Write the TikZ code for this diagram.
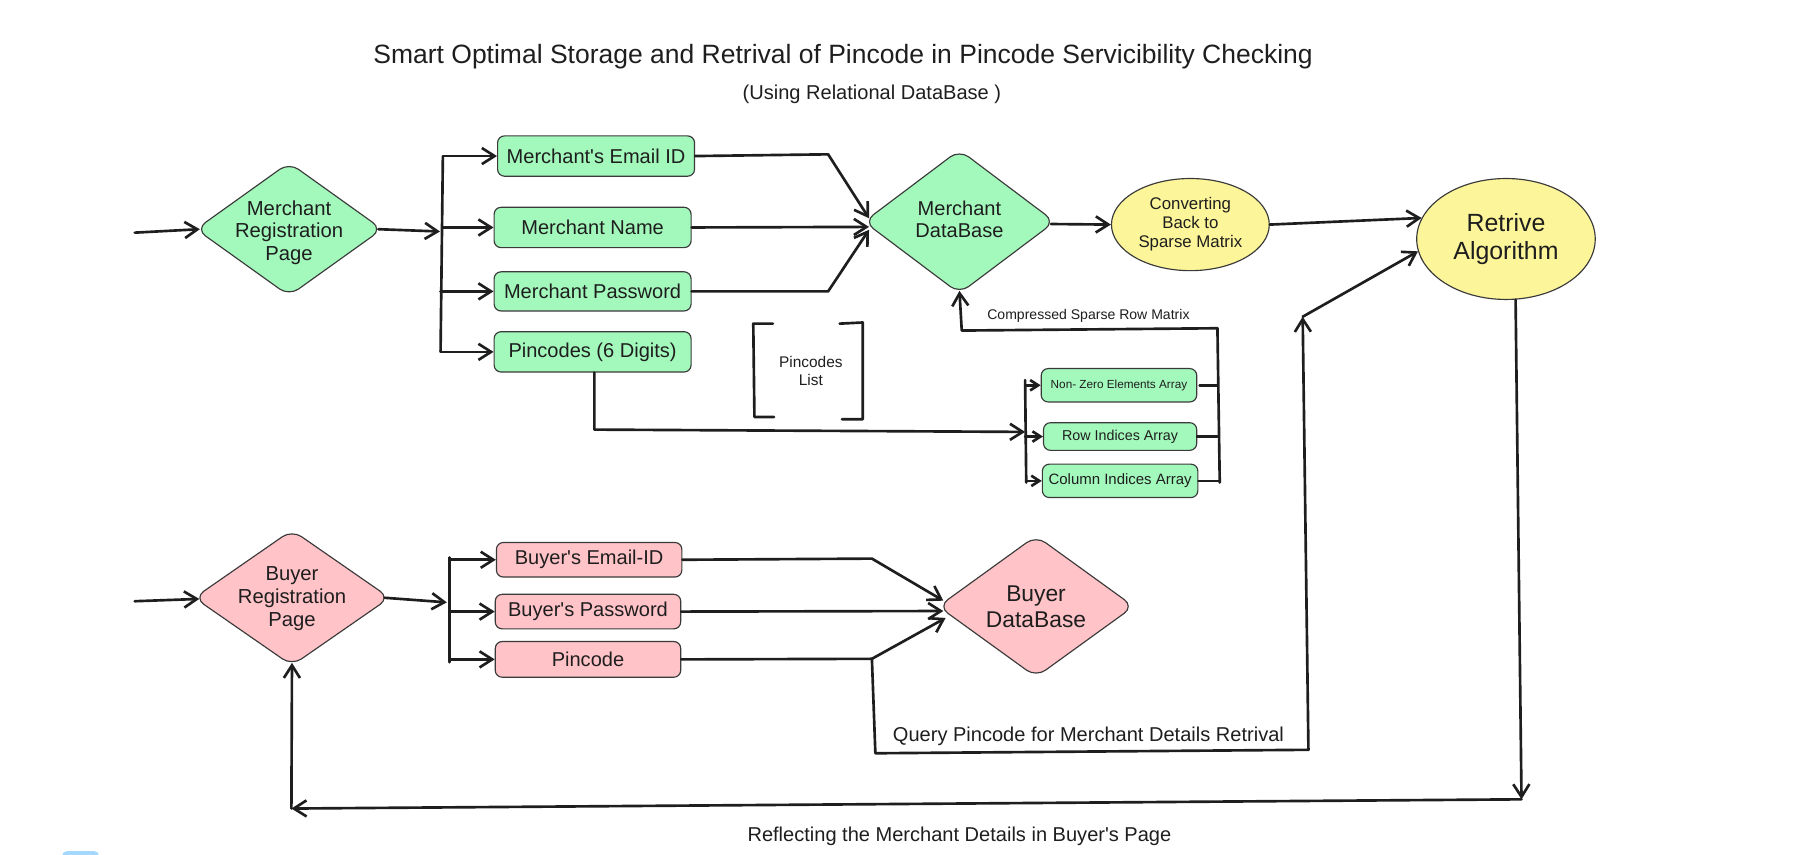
\documentclass[tikz,border=0pt]{standalone}
\usepackage{fontspec}
\setmainfont{Liberation Sans}[Ligatures=TeXOff]
\usetikzlibrary{shapes.geometric,arrows.meta,calc}
\definecolor{ink}{HTML}{1E1E1E}
\definecolor{edge}{HTML}{3A3A3A}
\definecolor{mgreen}{HTML}{A3F9BC}
\definecolor{bpink}{HTML}{FFC3C8}
\definecolor{ayellow}{HTML}{FCF59A}
\definecolor{lblue}{HTML}{A5D8FF}
\begin{document}
\begin{tikzpicture}[x=0.5pt,y=-0.5pt,
  every node/.style={text=ink, font=\fontsize{8.7}{9.8}\selectfont},
  gbox/.style={rectangle, draw=edge, line width=0.5pt, rounded corners=3pt, fill=mgreen, inner sep=0pt},
  pbox/.style={gbox, fill=bpink},
  dia/.style={diamond, draw=edge, line width=0.5pt, rounded corners=5pt, inner sep=0pt},
  ell/.style={ellipse, draw=edge, line width=0.5pt, fill=ayellow, inner sep=0pt, align=center},
  dtext/.style={align=center},
  conn/.style={draw=ink, line width=1.15pt, line cap=round, line join=round},
  arr/.style={conn, -{Straight Barb[length=5.5pt,width=7pt]}},
  sarr/.style={conn, -{Straight Barb[length=3.5pt,width=4.5pt]}}
]
\useasboundingbox (0,0) rectangle (1568,741.5);

% titles
\node[font=\fontsize{11.5}{14}\selectfont] (title) at (732,49) {Smart Optimal Storage and Retrival of Pincode in Pincode Servicibility Checking};
\node (sub) at (757,82) {(Using Relational DataBase )};

% merchant side
\node[dia, fill=mgreen, minimum width=81pt, minimum height=58pt] (mreg) at (251,199) {};
\node[dtext, font=\fontsize{8.8}{9.9}\selectfont] (mregt) at (251,202) {Merchant\\Registration\\Page};
\node[gbox, minimum width=85.5pt, minimum height=17.5pt] (memail) at (517.5,135.5) {Merchant's Email ID};
\node[gbox, minimum width=85.5pt, minimum height=17.5pt] (mname) at (514.5,197.5) {Merchant Name};
\node[gbox, minimum width=85.5pt, minimum height=17pt] (mpass) at (514.5,253) {Merchant Password};
\node[gbox, minimum width=85.5pt, minimum height=17.5pt] (mpin) at (514.5,305.5) {Pincodes (6 Digits)};
\node[dia, fill=mgreen, minimum width=83pt, minimum height=62.5pt] (mdb) at (833,192.5) {};
\node[dtext] (mdbt) at (833,190.5) {Merchant\\DataBase};
\node[ell, minimum width=68.5pt, minimum height=40pt, font=\fontsize{7.3}{8.25}\selectfont] (conv) at (1033.5,195) {Converting\\Back to\\Sparse Matrix};
\node[ell, minimum width=77.5pt, minimum height=52.5pt, font=\fontsize{10.8}{12.5}\selectfont] (retr) at (1307.5,207.5) {Retrive\\Algorithm};

\node[gbox, minimum width=67.5pt, minimum height=14.5pt, font=\fontsize{5.1}{6}\selectfont] (nz) at (971.5,334.5) {Non- Zero Elements Array};
\node[gbox, minimum width=66.5pt, minimum height=12pt, font=\fontsize{6.2}{7}\selectfont] (ri) at (972.5,379) {Row Indices Array};
\node[gbox, minimum width=67.5pt, minimum height=14.5pt, font=\fontsize{6.5}{7.5}\selectfont] (ci) at (972.5,417.5) {Column Indices Array};
\node[align=center, font=\fontsize{6.7}{7.6}\selectfont] (plist) at (704,322) {Pincodes\\List};
\node[font=\fontsize{6.1}{7}\selectfont] (csr) at (945,274) {Compressed Sparse Row Matrix};

% buyer side
\node[dia, fill=bpink, minimum width=85pt, minimum height=59pt] (breg) at (253.5,519) {};
\node[dtext, font=\fontsize{8.8}{9.9}\selectfont] (bregt) at (253.5,520) {Buyer\\Registration\\Page};
\node[pbox, minimum width=80.5pt, minimum height=15pt] (bemail) at (511.5,486) {Buyer's Email-ID};
\node[pbox, minimum width=80.5pt, minimum height=15pt] (bpass) at (510.5,531) {Buyer's Password};
\node[pbox, minimum width=80.5pt, minimum height=15.5pt] (bpin) at (510.5,572.5) {Pincode\hspace{8pt}};
\node[dia, fill=bpink, minimum width=85pt, minimum height=61.5pt] (bdb) at (899.5,526.5) {};
\node[dtext, font=\fontsize{9.9}{11.5}\selectfont] (bdbt) at (899.5,527) {Buyer\\DataBase};

\node (qlab) at (945,639) {Query Pincode for Merchant Details Retrival};
\node (rlab) at (833,726) {Reflecting the Merchant Details in Buyer's Page};

% coordinates
\coordinate (min) at (117,202);
\coordinate (mbm) at (382,201);
\coordinate (mbt) at (384.5,136);
\coordinate (mbb) at (382.5,305);
\coordinate (me1) at (719,134);
\coordinate (mp1) at (719,253);
\coordinate (pc1) at (516,373);
\coordinate (ab) at (890,375);
\coordinate (abt) at (890,330);
\coordinate (abb) at (891,419);
\coordinate (cvt) at (1057,285);
\coordinate (cvb) at (1059,419);
\coordinate (ch) at (835,287);
\coordinate (bin) at (117,522);
\coordinate (bbm) at (388,523);
\coordinate (bbt) at (390,484);
\coordinate (bbb) at (390,575);
\coordinate (be1) at (757,485);
\coordinate (bp1) at (757,572);
\coordinate (q1) at (760,654);
\coordinate (q2) at (1136,651);
\coordinate (q3) at (1131,275);
\coordinate (r1) at (1321,694);
\coordinate (r2) at (253,702);

% merchant connectors
\draw[arr] (min) -- ([shift={(4,0)}]mreg.west);
\draw[arr] ([shift={(-4,0)}]mreg.east) -- (mbm);
\draw[conn] (mbt) -- (mbb);
\draw[arr] (mbt |- memail.west) -- (memail.west);
\draw[arr] (mbt |- mname.west) -- (mname.west);
\draw[arr] (mbb |- mpass.west) -- (mpass.west);
\draw[arr] (mbb |- mpin.west) -- (mpin.west);
\draw[arr] (memail.east) -- (me1) -- ([shift={(5,-3)}]mdb.west);
\draw[arr] (mname.east) -- ([shift={(5,4.5)}]mdb.west);
\draw[arr] (mpass.east) -- (mp1) -- ([shift={(5,7)}]mdb.west);
\draw[arr] ([shift={(-4,2)}]mdb.east) -- (conv.west);
\draw[arr] (conv.east) -- (retr.166);

% pincodes to arrays
\draw[arr] (pc1 |- mpin.south) -- (pc1) -- (ab);
\draw[conn] (abt) -- (abb);
\draw[sarr] (abt |- nz.west) -- (nz.west);
\draw[sarr] (abt |- ri.west) -- (ri.west);
\draw[sarr] (abb |- ci.west) -- (ci.west);
\draw[conn] ([shift={(2,0)}]nz.east) -- (cvt |- nz.east);
\draw[conn] (ri.east) -- (cvt |- ri.east);
\draw[conn] (ci.east) -- (cvb |- ci.east);
\draw[conn] (cvb) -- (cvt);
\draw[arr] (cvt) -- (ch) -- ([shift={(0,-3)}]mdb.south);

% pincodes list bracket
\draw[conn] (671,281) -- (654,281) -- (655,362) -- (672,362);
\draw[conn] (729,281) -- (749,280) -- (749,364) -- (731,364);

% buyer connectors
\draw[arr] (bin) -- ([shift={(5,1)}]breg.west);
\draw[arr] ([shift={(-5,0)}]breg.east) -- (bbm);
\draw[conn] (bbt) -- (bbb);
\draw[arr] (bbt |- bemail.west) -- (bemail.west);
\draw[arr] (bbt |- bpass.west) -- (bpass.west);
\draw[arr] (bbb |- bpin.west) -- (bpin.west);
\draw[arr] (bemail.east) -- (be1) -- ([shift={(5,-5)}]bdb.west);
\draw[arr] (bpass.east) -- ([shift={(5,4)}]bdb.west);
\draw[arr] (bpin.east) -- (bp1) -- ([shift={(7,10)}]bdb.west);
\draw[arr] (bp1) -- (q1) -- (q2) -- (q3);
\draw[arr] (q3) -- (retr.188);
\draw[arr] (retr.-81) -- (r1);
\draw[arr] (r1) -- (r2);
\draw[arr] (r2) -- ([shift={(0,-3)}]breg.south);

% cut-off shape at bottom edge
\fill[lblue, rounded corners=2pt] (54,739) rectangle (86,748);
\end{tikzpicture}
\end{document}
